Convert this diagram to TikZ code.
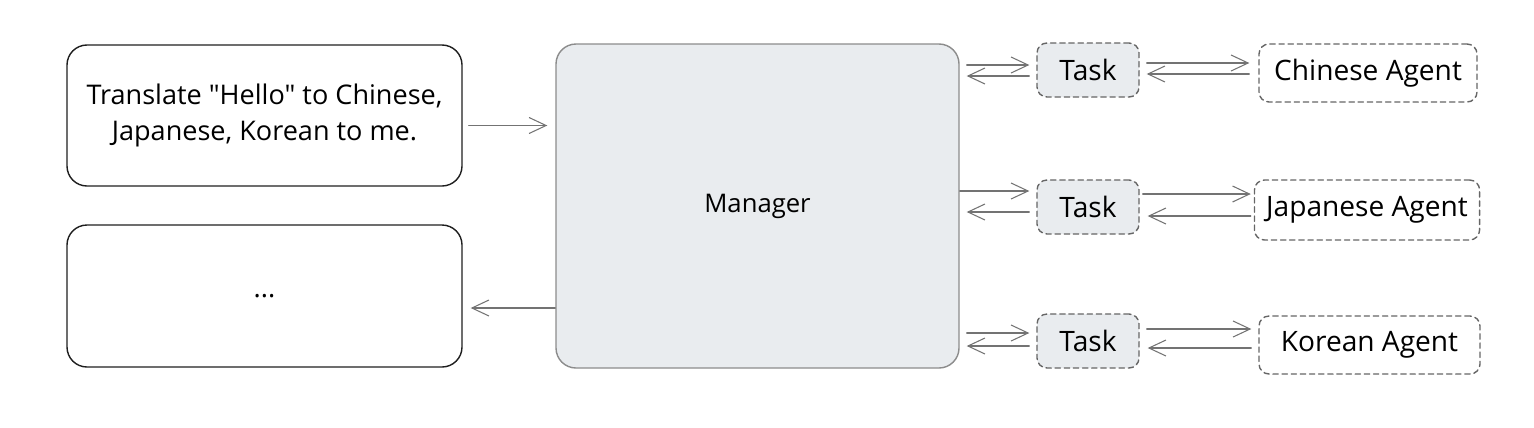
\documentclass[tikz,border=0pt]{standalone}
\usepackage{fontspec}
\setmainfont{Open Sans}[Ligatures=TeXOff]
\usetikzlibrary{arrows.meta}
\definecolor{panel}{HTML}{E9ECEF}
\definecolor{edge}{HTML}{1E1E1E}
\begin{document}
\begin{tikzpicture}[line cap=round, line join=round,
    box/.style={draw=edge, line width=0.4pt, rounded corners=0.2cm, align=center,
      font=\fontsize{7.7}{10.5}\selectfont},
    mgrbox/.style={draw=black!45, fill=panel, line width=0.4pt, rounded corners=0.2cm,
      font=\fontsize{7.3}{9}\selectfont},
    taskbox/.style={draw=black!60, fill=panel, dashed, dash pattern=on 1.5pt off 1.1pt,
      line width=0.4pt, rounded corners=0.1cm, font=\fontsize{8}{9}\selectfont},
    agentbox/.style={draw=black!60, dashed, dash pattern=on 1.5pt off 1.1pt,
      line width=0.4pt, rounded corners=0.1cm, font=\fontsize{8}{9}\selectfont},
    link/.style={draw=black!55, line width=0.3pt,
      -{Straight Barb[length=0.17cm, width=0.16cm, line width=0.3pt]}}]
  \useasboundingbox (0,0) rectangle (15.34,-4.27);
  % left column
  \node[box, minimum width=3.95cm, minimum height=1.41cm] (in) at (2.645,-1.155)
    {Translate "Hello" to Chinese,\\ Japanese, Korean to me.};
  \node[box, minimum width=3.95cm, minimum height=1.42cm] (out) at (2.645,-2.96) {...};
  % manager
  \node[mgrbox, minimum width=4.03cm, minimum height=3.24cm] (mgr) at (7.575,-2.06) {Manager};
  % tasks
  \node[taskbox, minimum width=1.02cm, minimum height=0.54cm] (t1) at (10.88,-0.70) {Task};
  \node[taskbox, minimum width=1.02cm, minimum height=0.54cm] (t2) at (10.88,-2.07) {Task};
  \node[taskbox, minimum width=1.02cm, minimum height=0.54cm] (t3) at (10.88,-3.41) {Task};
  % agents
  \node[agentbox, minimum width=2.18cm, minimum height=0.58cm] (a1) at (13.68,-0.73) {Chinese Agent};
  \node[agentbox, minimum width=2.22cm, minimum height=0.60cm] (a2) at (13.67,-2.10) {Japanese Agent};
  \node[agentbox, minimum width=2.21cm, minimum height=0.58cm] (a3) at (13.695,-3.45) {Korean Agent};
  % request and reply
  \draw[link] ([xshift=0.06cm,yshift=-0.1cm]in.east) -- ([xshift=-0.08cm,yshift=-0.1cm]in.east -| mgr.west);
  \draw[link] ([yshift=-0.12cm]mgr.west |- out.east) -- ([xshift=0.08cm,yshift=-0.12cm]out.east);
  % row 1
  \draw[link] ([xshift=0.07cm,yshift=0.05cm]mgr.east |- t1.west) -- ([xshift=-0.07cm,yshift=0.05cm]t1.west);
  \draw[link] ([xshift=-0.07cm,yshift=-0.06cm]t1.west) -- ([xshift=0.07cm,yshift=-0.06cm]mgr.east |- t1.west);
  \draw[link] ([xshift=0.07cm,yshift=0.07cm]t1.east) -- ([xshift=-0.09cm,yshift=0.07cm]a1.west |- t1.east);
  \draw[link] ([xshift=-0.09cm,yshift=-0.04cm]a1.west |- t1.east) -- ([xshift=0.07cm,yshift=-0.04cm]t1.east);
  % row 2
  \draw[link] ([yshift=0.16cm]mgr.east |- t2.west) -- ([xshift=-0.07cm,yshift=0.16cm]t2.west);
  \draw[link] ([xshift=-0.07cm,yshift=-0.05cm]t2.west) -- ([xshift=0.07cm,yshift=-0.05cm]mgr.east |- t2.west);
  \draw[link] ([xshift=0.03cm,yshift=0.13cm]t2.east) -- ([xshift=-0.03cm,yshift=0.13cm]a2.west |- t2.east);
  \draw[link] ([xshift=-0.03cm,yshift=-0.09cm]a2.west |- t2.east) -- ([xshift=0.08cm,yshift=-0.09cm]t2.east);
  % row 3
  \draw[link] ([xshift=0.07cm,yshift=0.08cm]mgr.east |- t3.west) -- ([xshift=-0.07cm,yshift=0.08cm]t3.west);
  \draw[link] ([xshift=-0.07cm,yshift=-0.05cm]t3.west) -- ([xshift=0.07cm,yshift=-0.05cm]mgr.east |- t3.west);
  \draw[link] ([xshift=0.07cm,yshift=0.12cm]t3.east) -- ([xshift=-0.07cm,yshift=0.12cm]a3.west |- t3.east);
  \draw[link] ([xshift=-0.07cm,yshift=-0.07cm]a3.west |- t3.east) -- ([xshift=0.08cm,yshift=-0.07cm]t3.east);
\end{tikzpicture}
\end{document}
